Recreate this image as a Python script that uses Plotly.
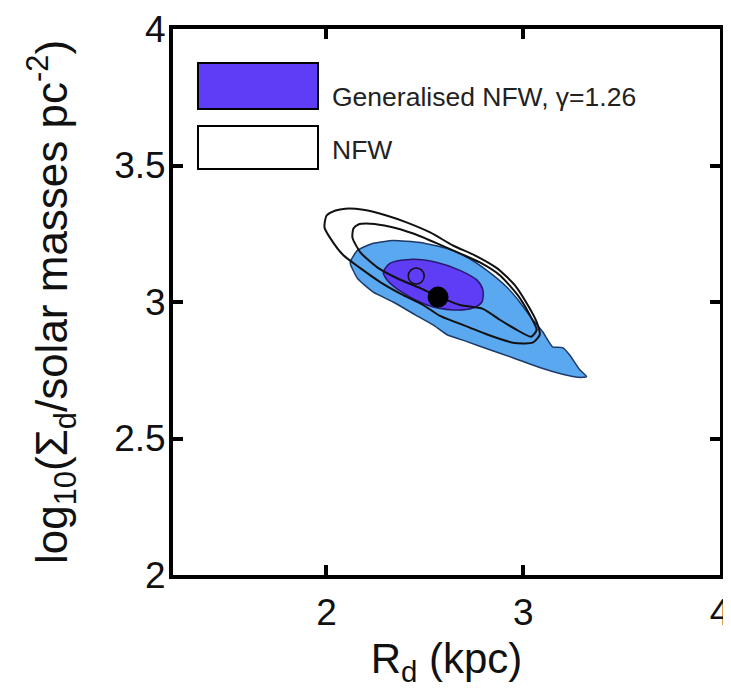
import plotly.graph_objects as go

# ---- data ----
# Generalised NFW (gamma = 1.26), outer (light blue) confidence region
gnfw_outer_x = [2.122, 2.157, 2.238, 2.339, 2.476, 2.613, 2.714, 2.815, 2.916, 2.982,
                3.048, 3.099, 3.149, 3.200, 3.235, 3.286, 3.322, 3.301, 3.251, 3.200,
                3.084, 2.947, 2.830, 2.714, 2.613, 2.542, 2.451, 2.339, 2.238, 2.157,
                2.122]
gnfw_outer_y = [3.149, 3.189, 3.215, 3.225, 3.218, 3.196, 3.164, 3.116, 3.055, 3.000,
                2.935, 2.891, 2.836, 2.833, 2.807, 2.753, 2.727, 2.724, 2.727, 2.735,
                2.760, 2.796, 2.825, 2.855, 2.880, 2.916, 2.953, 3.000, 3.036, 3.087,
                3.138]

# Generalised NFW, inner (purple) confidence region
gnfw_inner_x = [2.289, 2.324, 2.425, 2.562, 2.678, 2.765, 2.795, 2.790, 2.744, 2.643,
                2.511, 2.390, 2.309]
gnfw_inner_y = [3.109, 3.142, 3.156, 3.145, 3.116, 3.080, 3.044, 3.000, 2.978, 2.971,
                2.989, 3.033, 3.080]

# NFW, outer contour
nfw_outer_x = [1.990, 2.000, 2.046, 2.096, 2.187, 2.309, 2.410, 2.527, 2.643, 2.754,
               2.866, 2.957, 3.023, 3.068, 3.084, 3.048, 2.947, 2.820, 2.719, 2.653,
               2.577, 2.491, 2.390, 2.273, 2.172, 2.086, 2.020]
nfw_outer_y = [3.273, 3.316, 3.335, 3.342, 3.338, 3.316, 3.291, 3.255, 3.207, 3.171,
               3.124, 3.062, 2.989, 2.927, 2.880, 2.851, 2.851, 2.880, 2.909, 2.927,
               2.949, 2.989, 3.025, 3.073, 3.124, 3.171, 3.233]

# NFW, inner contour
nfw_inner_x = [2.132, 2.137, 2.162, 2.223, 2.324, 2.441, 2.562, 2.678, 2.780, 2.881,
               2.972, 3.033, 3.068, 3.040, 2.957, 2.881, 2.795, 2.678, 2.577, 2.476,
               2.359, 2.258, 2.172]
nfw_inner_y = [3.236, 3.269, 3.284, 3.287, 3.276, 3.251, 3.215, 3.178, 3.145, 3.098,
               3.025, 2.953, 2.898, 2.873, 2.902, 2.935, 2.975, 2.989, 3.018, 3.051,
               3.087, 3.127, 3.182]

# best-fit points
best_gnfw_x = [2.567]
best_gnfw_y = [3.018]
best_nfw_x = [2.456]
best_nfw_y = [3.095]

x_tick_vals = [2, 3, 4]
x_tick_text = ["2", "3", "4"]
y_tick_vals = [2, 2.5, 3, 3.5, 4]
y_tick_text = ["2", "2.5", "3", "3.5", "4"]

legend_labels = ["Generalised NFW, \u03b3=1.26", "NFW"]

LIGHT_BLUE = "#5AA8F0"
PURPLE = "#5F3CF5"
FONT = "Arial, 'Liberation Sans', sans-serif"


def closed(xs, ys):
    return list(xs) + [xs[0]], list(ys) + [ys[0]]


fig = go.Figure()

x, y = closed(gnfw_outer_x, gnfw_outer_y)
fig.add_trace(go.Scatter(x=x, y=y, mode="lines", fill="toself", fillcolor=LIGHT_BLUE,
                         line=dict(color="#1E3A68", width=1.5, shape="spline", smoothing=0.5),
                         hoverinfo="skip", showlegend=False))
x, y = closed(gnfw_inner_x, gnfw_inner_y)
fig.add_trace(go.Scatter(x=x, y=y, mode="lines", fill="toself", fillcolor=PURPLE,
                         line=dict(color="#2A1870", width=1.5, shape="spline", smoothing=0.8),
                         hoverinfo="skip", showlegend=False))
x, y = closed(nfw_outer_x, nfw_outer_y)
fig.add_trace(go.Scatter(x=x, y=y, mode="lines",
                         line=dict(color="#111111", width=2, shape="spline", smoothing=0.6),
                         hoverinfo="skip", showlegend=False))
x, y = closed(nfw_inner_x, nfw_inner_y)
fig.add_trace(go.Scatter(x=x, y=y, mode="lines",
                         line=dict(color="#111111", width=2, shape="spline", smoothing=0.6),
                         hoverinfo="skip", showlegend=False))
fig.add_trace(go.Scatter(x=best_nfw_x, y=best_nfw_y, mode="markers",
                         marker=dict(size=16, color="rgba(0,0,0,0)",
                                     line=dict(color="#111111", width=1.5)),
                         showlegend=False))
fig.add_trace(go.Scatter(x=best_gnfw_x, y=best_gnfw_y, mode="markers",
                         marker=dict(size=21, color="#000000"),
                         showlegend=False))

# legend drawn as boxes + text, like the original
fig.add_shape(type="rect", xref="paper", yref="paper", x0=0.0457, x1=0.2651,
              y0=0.8535, y1=0.9377, fillcolor=PURPLE, line=dict(color="#000000", width=2))
fig.add_shape(type="rect", xref="paper", yref="paper", x0=0.0457, x1=0.2651,
              y0=0.7436, y1=0.8223, fillcolor="#FFFFFF", line=dict(color="#000000", width=2))
fig.add_annotation(xref="paper", yref="paper", x=0.287, y=0.8750, xanchor="left",
                   yanchor="middle", text=legend_labels[0], showarrow=False,
                   font=dict(family=FONT, size=26.5, color="#222222"))
fig.add_annotation(xref="paper", yref="paper", x=0.287, y=0.7784, xanchor="left",
                   yanchor="middle", text=legend_labels[1], showarrow=False,
                   font=dict(family=FONT, size=26.5, color="#222222"))

axis_common = dict(showgrid=False, zeroline=False, showline=True, linecolor="#000000",
                   linewidth=4, mirror="ticks", ticks="inside", ticklen=10,
                   tickwidth=4, tickcolor="#000000", automargin=False,
                   tickfont=dict(family=FONT, size=37, color="#111111"))

# the page body adds an 8 px offset, so the figure is sized to fit the window
fig.update_layout(
    width=723, height=683,
    margin=dict(l=165, r=11, t=21, b=116),
    paper_bgcolor="#FFFFFF", plot_bgcolor="#FFFFFF",
    xaxis=dict(range=[1.22, 4], tickvals=x_tick_vals, ticktext=x_tick_text,
               ticklabelstandoff=2,
               title=dict(text="R<sub>d</sub> (kpc)", standoff=12,
                          font=dict(family=FONT, size=42, color="#111111")),
               **axis_common),
    yaxis=dict(range=[2, 4], tickvals=y_tick_vals, ticktext=y_tick_text,
               ticklabelstandoff=-4,
               title=dict(text="log<sub>10</sub>(\u03a3<sub>d</sub>/solar masses pc<sup>-2</sup>)",
                          standoff=34, font=dict(family=FONT, size=44, color="#111111")),
               **axis_common),
)

fig.write_html("out.html")
